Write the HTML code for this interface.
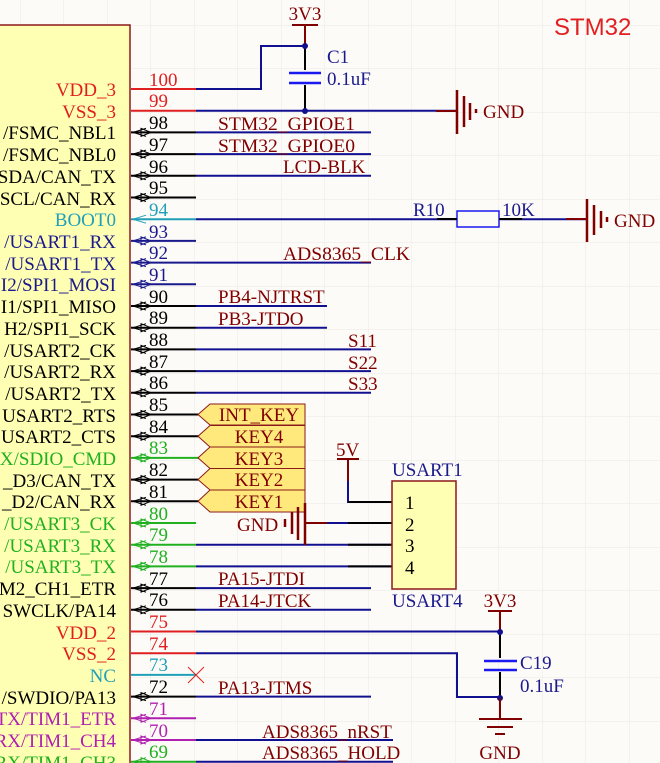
<!DOCTYPE html>
<html><head><meta charset="utf-8"><style>
html,body{margin:0;padding:0;background:#fdfbf8;}
svg{display:block;}
text{font-family:"Liberation Serif",serif;}
</style></head><body>
<svg width="660" height="763" viewBox="0 0 660 763" xmlns="http://www.w3.org/2000/svg">
<defs>
<pattern id="g" width="43.5" height="43.5" patternUnits="userSpaceOnUse" x="20" y="25">
<path d="M0 0H43.5M0 0V43.5" stroke="#ebe8e4" stroke-width="1" fill="none"/>
</pattern>
<g id="ar"><path d="M146 -4 L133 0 L146 4 M141 -4 L151 0 L141 4 Z" fill="none" stroke-width="1"/></g>
</defs>
<rect width="660" height="763" fill="url(#g)"/>
<rect x="-5" y="25" width="135" height="745" fill="#ffffb4" stroke="#8b1a1a" stroke-width="1.5"/>

<g font-size="19" text-anchor="end">
<text x="116" y="96" fill="#e02020">VDD_3</text>
<text x="116" y="118" fill="#e02020">VSS_3</text>
<text x="116" y="139" fill="#000">/FSMC_NBL1</text>
<text x="116" y="161" fill="#000">/FSMC_NBL0</text>
<text x="116" y="183" fill="#000">SDA/CAN_TX</text>
<text x="116" y="205" fill="#000">SCL/CAN_RX</text>
<text x="116" y="226" fill="#20a0b8">BOOT0</text>
<text x="116" y="248" fill="#1a1a8c">/USART1_RX</text>
<text x="116" y="270" fill="#1a1a8c">/USART1_TX</text>
<text x="116" y="291" fill="#1a1a8c">I2/SPI1_MOSI</text>
<text x="116" y="313" fill="#000">I1/SPI1_MISO</text>
<text x="116" y="335" fill="#000">H2/SPI1_SCK</text>
<text x="116" y="357" fill="#000">/USART2_CK</text>
<text x="116" y="378" fill="#000">/USART2_RX</text>
<text x="116" y="400" fill="#000">/USART2_TX</text>
<text x="116" y="422" fill="#000">USART2_RTS</text>
<text x="116" y="443" fill="#000">USART2_CTS</text>
<text x="116" y="465" fill="#20b020">X/SDIO_CMD</text>
<text x="116" y="487" fill="#000">_D3/CAN_TX</text>
<text x="116" y="508" fill="#000">_D2/CAN_RX</text>
<text x="116" y="530" fill="#20b020">/USART3_CK</text>
<text x="116" y="552" fill="#20b020">/USART3_RX</text>
<text x="116" y="573" fill="#20b020">/USART3_TX</text>
<text x="116" y="595" fill="#000">M2_CH1_ETR</text>
<text x="116" y="617" fill="#000">SWCLK/PA14</text>
<text x="116" y="639" fill="#e02020">VDD_2</text>
<text x="116" y="660" fill="#e02020">VSS_2</text>
<text x="116" y="682" fill="#20a0b8">NC</text>
<text x="116" y="704" fill="#000">/SWDIO/PA13</text>
<text x="116" y="725" fill="#b020b0">TX/TIM1_ETR</text>
<text x="116" y="747" fill="#b020b0">RX/TIM1_CH4</text>
<text x="116" y="769" fill="#20b020">RX/TIM1_CH3</text>
</g>

<g stroke-width="2">
<line x1="131" y1="89" x2="196" y2="89" stroke="#e02020"/>
<line x1="131" y1="110.7" x2="196" y2="110.7" stroke="#e02020"/>
<line x1="131" y1="132.4" x2="196" y2="132.4" stroke="#000"/>
<line x1="131" y1="154.1" x2="196" y2="154.1" stroke="#000"/>
<line x1="131" y1="175.8" x2="196" y2="175.8" stroke="#000"/>
<line x1="131" y1="197.5" x2="196" y2="197.5" stroke="#000"/>
<line x1="131" y1="219.2" x2="196" y2="219.2" stroke="#20a0b8"/>
<line x1="131" y1="240.9" x2="196" y2="240.9" stroke="#1a1a8c"/>
<line x1="131" y1="262.6" x2="196" y2="262.6" stroke="#1a1a8c"/>
<line x1="131" y1="284.3" x2="196" y2="284.3" stroke="#1a1a8c"/>
<line x1="131" y1="306" x2="196" y2="306" stroke="#000"/>
<line x1="131" y1="327.7" x2="196" y2="327.7" stroke="#000"/>
<line x1="131" y1="349.4" x2="196" y2="349.4" stroke="#000"/>
<line x1="131" y1="371.1" x2="196" y2="371.1" stroke="#000"/>
<line x1="131" y1="392.8" x2="196" y2="392.8" stroke="#000"/>
<line x1="131" y1="414.5" x2="200" y2="414.5" stroke="#000"/>
<line x1="131" y1="436.2" x2="200" y2="436.2" stroke="#000"/>
<line x1="131" y1="457.9" x2="200" y2="457.9" stroke="#20b020"/>
<line x1="131" y1="479.6" x2="200" y2="479.6" stroke="#000"/>
<line x1="131" y1="501.3" x2="200" y2="501.3" stroke="#000"/>
<line x1="131" y1="523" x2="196" y2="523" stroke="#20b020"/>
<line x1="131" y1="544.7" x2="196" y2="544.7" stroke="#20b020"/>
<line x1="131" y1="566.4" x2="196" y2="566.4" stroke="#20b020"/>
<line x1="131" y1="588.1" x2="196" y2="588.1" stroke="#000"/>
<line x1="131" y1="609.8" x2="196" y2="609.8" stroke="#000"/>
<line x1="131" y1="631.5" x2="196" y2="631.5" stroke="#e02020"/>
<line x1="131" y1="653.2" x2="196" y2="653.2" stroke="#e02020"/>
<line x1="131" y1="674.9" x2="196" y2="674.9" stroke="#20a0b8"/>
<line x1="131" y1="696.6" x2="196" y2="696.6" stroke="#000"/>
<line x1="131" y1="718.3" x2="196" y2="718.3" stroke="#b020b0"/>
<line x1="131" y1="740" x2="196" y2="740" stroke="#b020b0"/>
<line x1="131" y1="761.7" x2="196" y2="761.7" stroke="#20b020"/>
</g>
<g fill="none" stroke-width="1">
<use href="#ar" y="132.4" stroke="#000"/><use href="#ar" y="154.1" stroke="#000"/>
<use href="#ar" y="175.8" stroke="#000"/><use href="#ar" y="197.5" stroke="#000"/>
<path d="M146 215.2 L133 219.2 L146 223.2" stroke="#20a0b8"/>
<use href="#ar" y="240.9" stroke="#1a1a8c"/><use href="#ar" y="262.6" stroke="#1a1a8c"/>
<use href="#ar" y="284.3" stroke="#1a1a8c"/><use href="#ar" y="306" stroke="#000"/>
<use href="#ar" y="327.7" stroke="#000"/><use href="#ar" y="349.4" stroke="#000"/>
<use href="#ar" y="371.1" stroke="#000"/><use href="#ar" y="392.8" stroke="#000"/>
<use href="#ar" y="414.5" stroke="#000"/><use href="#ar" y="436.2" stroke="#000"/>
<use href="#ar" y="457.9" stroke="#20b020"/><use href="#ar" y="479.6" stroke="#000"/>
<use href="#ar" y="501.3" stroke="#000"/><use href="#ar" y="523" stroke="#20b020"/>
<use href="#ar" y="544.7" stroke="#20b020"/><use href="#ar" y="566.4" stroke="#20b020"/>
<use href="#ar" y="588.1" stroke="#000"/><use href="#ar" y="609.8" stroke="#000"/>
<use href="#ar" y="696.6" stroke="#000"/><use href="#ar" y="718.3" stroke="#b020b0"/>
<use href="#ar" y="740" stroke="#b020b0"/><use href="#ar" y="761.7" stroke="#20b020"/>
</g>
<g font-size="19">
<text x="149" y="86" fill="#e02020">100</text>
<text x="149" y="107" fill="#e02020">99</text>
<text x="149" y="129" fill="#000">98</text>
<text x="149" y="151" fill="#000">97</text>
<text x="149" y="173" fill="#000">96</text>
<text x="149" y="194" fill="#000">95</text>
<text x="149" y="216" fill="#20a0b8">94</text>
<text x="149" y="238" fill="#1a1a8c">93</text>
<text x="149" y="259" fill="#1a1a8c">92</text>
<text x="149" y="281" fill="#1a1a8c">91</text>
<text x="149" y="303" fill="#000">90</text>
<text x="149" y="324" fill="#000">89</text>
<text x="149" y="346" fill="#000">88</text>
<text x="149" y="368" fill="#000">87</text>
<text x="149" y="389" fill="#000">86</text>
<text x="149" y="411" fill="#000">85</text>
<text x="149" y="433" fill="#000">84</text>
<text x="149" y="454" fill="#20b020">83</text>
<text x="149" y="476" fill="#000">82</text>
<text x="149" y="498" fill="#000">81</text>
<text x="149" y="520" fill="#20b020">80</text>
<text x="149" y="541" fill="#20b020">79</text>
<text x="149" y="563" fill="#20b020">78</text>
<text x="149" y="585" fill="#000">77</text>
<text x="149" y="606" fill="#000">76</text>
<text x="149" y="628" fill="#e02020">75</text>
<text x="149" y="650" fill="#e02020">74</text>
<text x="149" y="671" fill="#20a0b8">73</text>
<text x="149" y="693" fill="#000">72</text>
<text x="149" y="715" fill="#b020b0">71</text>
<text x="149" y="737" fill="#b020b0">70</text>
<text x="149" y="758" fill="#20b020">69</text>
</g>
<path d="M188 667 L204 683 M204 667 L188 683" stroke="#e02020" stroke-width="1"/>

<g stroke="#101090" stroke-width="2" fill="none">
<path d="M196 89 H261 V46 H305"/>
<path d="M196 110.7 H458"/>
<path d="M196 132.4 H371"/>
<path d="M196 154.1 H371"/>
<path d="M196 175.8 H371"/>
<path d="M196 219.2 H457 M500 219.2 H588"/>
<path d="M196 262.6 H371"/>
<path d="M196 306 H327"/>
<path d="M196 327.7 H327"/>
<path d="M196 349.4 H371"/>
<path d="M196 371.1 H371"/>
<path d="M196 392.8 H371"/>
<path d="M196 544.7 H392"/>
<path d="M196 566.4 H392"/>
<path d="M196 588.1 H371"/>
<path d="M196 609.8 H371"/>
<path d="M196 631.5 H500"/>
<path d="M196 653.2 H457 V697 H500"/>
<path d="M196 696.6 H371"/>
<path d="M196 740 H393"/>
<path d="M196 761.7 H393"/>
<path d="M348 481 V502 H392"/>
<path d="M305 523 H392"/>
</g>
<g font-size="19" fill="#800000">
<text x="218" y="130" textLength="137" lengthAdjust="spacingAndGlyphs">STM32_GPIOE1</text>
<text x="218" y="152" textLength="137" lengthAdjust="spacingAndGlyphs">STM32_GPIOE0</text>
<text x="283" y="173">LCD-BLK</text>
<text x="283" y="260" textLength="127" lengthAdjust="spacingAndGlyphs">ADS8365_CLK</text>
<text x="218" y="303">PB4-NJTRST</text>
<text x="218" y="325">PB3-JTDO</text>
<text x="348" y="347">S11</text>
<text x="348" y="369">S22</text>
<text x="348" y="390">S33</text>
<text x="218" y="585">PA15-JTDI</text>
<text x="218" y="607">PA14-JTCK</text>
<text x="218" y="694">PA13-JTMS</text>
<text x="262" y="738">ADS8365_nRST</text>
<text x="262" y="759">ADS8365_HOLD</text>
</g>

<g stroke="#8b1a1a" stroke-width="1" fill="#ffe97c">
<path d="M198 414.5 L210 404 H305 V425 H210 Z"/>
<path d="M198 436.2 L210 425.5 H305 V447 H210 Z"/>
<path d="M198 457.9 L210 447 H305 V468.5 H210 Z"/>
<path d="M198 479.6 L210 468.5 H305 V490 H210 Z"/>
<path d="M198 501.3 L210 490 H305 V512 H210 Z"/>
</g>
<g font-size="19" fill="#800000" text-anchor="middle">
<text x="259" y="421">INT_KEY</text>
<text x="259" y="443">KEY4</text>
<text x="259" y="465">KEY3</text>
<text x="259" y="486">KEY2</text>
<text x="259" y="508">KEY1</text>
</g>

<g stroke="#800000" stroke-width="2.5">
<line x1="285" y1="519" x2="285" y2="527"/>
<line x1="292" y1="512" x2="292" y2="534"/>
<line x1="298" y1="507" x2="298" y2="540"/>
<line x1="305" y1="503" x2="305" y2="545"/>
<line x1="305" y1="523" x2="327" y2="523" stroke-width="2"/>
</g>
<text x="237" y="531" font-size="19" fill="#800000">GND</text>

<text x="336" y="456" font-size="19" fill="#800000">5V</text>
<line x1="337" y1="459" x2="359" y2="459" stroke="#800000" stroke-width="2"/>
<line x1="348" y1="459" x2="348" y2="481" stroke="#800000" stroke-width="2"/>
<g stroke="#000" stroke-width="2">
<line x1="348" y1="502" x2="392" y2="502"/>
<line x1="348" y1="523" x2="392" y2="523"/>
<line x1="348" y1="544.7" x2="392" y2="544.7"/>
<line x1="348" y1="566.4" x2="392" y2="566.4"/>
</g>
<rect x="392" y="481" width="64" height="108" fill="#ffffb4" stroke="#8b1a1a" stroke-width="1.5"/>
<g font-size="19" fill="#000">
<text x="405" y="509">1</text><text x="405" y="531">2</text>
<text x="405" y="552">3</text><text x="405" y="574">4</text>
</g>
<text x="392" y="476" font-size="19" fill="#1a1a8c">USART1</text>
<text x="392" y="607" font-size="19" fill="#1a1a8c">USART4</text>

<text x="305" y="20" font-size="19" fill="#800000" text-anchor="middle">3V3</text>
<line x1="292" y1="25" x2="318" y2="25" stroke="#800000" stroke-width="2"/>
<line x1="305" y1="25" x2="305" y2="46" stroke="#800000" stroke-width="2"/>
<line x1="305" y1="46" x2="305" y2="70" stroke="#000" stroke-width="2"/>
<line x1="305" y1="85" x2="305" y2="111" stroke="#000" stroke-width="2"/>
<line x1="289" y1="73" x2="321" y2="73" stroke="#1a1aee" stroke-width="2.5"/>
<line x1="289" y1="83" x2="321" y2="83" stroke="#1a1aee" stroke-width="2.5"/>
<circle cx="305" cy="46" r="3" fill="#101090"/>
<circle cx="305" cy="111" r="3" fill="#101090"/>
<text x="327" y="63" font-size="19" fill="#1a1a8c">C1</text>
<text x="327" y="85" font-size="19" fill="#1a1a8c">0.1uF</text>

<g stroke="#800000" stroke-width="2.5">
<line x1="436" y1="111" x2="458" y2="111" stroke-width="2"/>
<line x1="457" y1="90" x2="457" y2="134"/>
<line x1="464" y1="96" x2="464" y2="127"/>
<line x1="470" y1="103" x2="470" y2="120"/>
<line x1="476" y1="109" x2="476" y2="113"/>
</g>
<text x="483" y="118" font-size="19" fill="#800000">GND</text>

<rect x="457" y="211" width="42" height="16" fill="none" stroke="#1a1aee" stroke-width="1.5"/>
<line x1="437" y1="219" x2="457" y2="219" stroke="#000" stroke-width="2"/>
<line x1="499" y1="219" x2="522" y2="219" stroke="#000" stroke-width="2"/>
<text x="413" y="216" font-size="19" fill="#1a1a8c">R10</text>
<text x="502" y="216" font-size="19" fill="#1a1a8c">10K</text>
<g stroke="#800000" stroke-width="2.5">
<line x1="566" y1="219" x2="588" y2="219" stroke-width="2"/>
<line x1="587" y1="199" x2="587" y2="242"/>
<line x1="594" y1="205" x2="594" y2="235"/>
<line x1="601" y1="211" x2="601" y2="228"/>
<line x1="607" y1="217" x2="607" y2="222"/>
</g>
<text x="614" y="227" font-size="19" fill="#800000">GND</text>

<text x="554" y="35" font-size="24" fill="#e02020" style="font-family:'Liberation Sans',sans-serif">STM32</text>

<text x="500" y="607" font-size="19" fill="#800000" text-anchor="middle">3V3</text>
<line x1="488" y1="611" x2="512" y2="611" stroke="#800000" stroke-width="2"/>
<line x1="500" y1="611" x2="500" y2="632" stroke="#800000" stroke-width="2"/>
<line x1="500" y1="632" x2="500" y2="658" stroke="#000" stroke-width="2"/>
<line x1="500" y1="672" x2="500" y2="698" stroke="#000" stroke-width="2"/>
<line x1="484" y1="661" x2="517" y2="661" stroke="#1a1aee" stroke-width="2.5"/>
<line x1="484" y1="670" x2="517" y2="670" stroke="#1a1aee" stroke-width="2.5"/>
<circle cx="500" cy="632" r="3" fill="#101090"/>
<circle cx="500" cy="698" r="3" fill="#101090"/>
<text x="520" y="669" font-size="19" fill="#1a1a8c">C19</text>
<text x="520" y="692" font-size="19" fill="#1a1a8c">0.1uF</text>
<g stroke="#800000" stroke-width="2">
<line x1="500" y1="698" x2="500" y2="719"/>
<line x1="479" y1="719" x2="522" y2="719"/>
<line x1="487" y1="727" x2="513" y2="727"/>
<line x1="495" y1="734" x2="505" y2="734"/>
</g>
<text x="500" y="759" font-size="19" fill="#800000" text-anchor="middle">GND</text>
</svg>
</body></html>
